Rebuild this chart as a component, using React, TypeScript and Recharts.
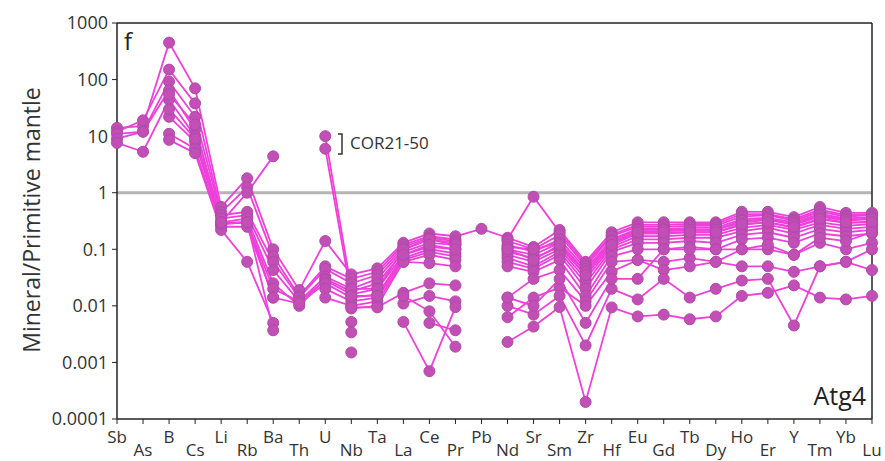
import { LineChart, Line, XAxis, YAxis, ReferenceLine } from "recharts";

// element order on the x axis
const elements = [
  "Sb", "As", "B", "Cs", "Li", "Rb", "Ba", "Th", "U", "Nb",
  "Ta", "La", "Ce", "Pr", "Pb", "Nd", "Sr", "Sm", "Zr", "Hf",
  "Eu", "Gd", "Tb", "Dy", "Ho", "Er", "Y", "Tm", "Yb", "Lu",
];

const yTicks = [0.0001, 0.001, 0.01, 0.1, 1, 10, 100, 1000];

type V = number | null;
const _ = null;

// spot analyses, normalised to primitive mantle
const s01: V[] = [14, 15, 450, 70, 0.56, 1.8, 0.1, 0.019, 0.14, 0.036, 0.046, 0.13, 0.19, 0.17, 0.23, 0.16, 0.11, 0.22, 0.06, 0.2, 0.3, 0.3, 0.3, 0.3, 0.46, 0.46, 0.37, 0.56, 0.44, 0.44];
const s02: V[] = [12, 19, 150, 38, 0.45, 1.25, 0.075, 0.015, 0.05, 0.03, 0.04, 0.12, 0.17, 0.15, _, 0.15, 0.85, 0.2, 0.055, 0.18, 0.27, 0.27, 0.28, 0.28, 0.42, 0.42, 0.34, 0.5, 0.4, 0.42];
const s03: V[] = [11, 12, 92, 22, 0.4, 0.46, 0.06, 0.014, 0.045, 0.025, 0.035, 0.11, 0.16, 0.14, _, 0.14, 0.1, 0.18, 0.05, 0.17, 0.25, 0.25, 0.26, 0.26, 0.38, 0.4, 0.32, 0.46, 0.38, 0.4];
const s04: V[] = [9, 12, 65, 13, 0.35, 0.4, 0.043, 0.012, 0.033, 0.02, 0.03, 0.1, 0.15, 0.13, _, 0.12, 0.09, 0.15, 0.045, 0.15, 0.23, 0.23, 0.24, 0.24, 0.34, 0.36, 0.3, 0.42, 0.35, 0.37];
const s05: V[] = [7.6, 5.3, 44, 10, 0.3, 0.35, 0.025, 0.01, 0.03, 0.018, 0.025, 0.09, 0.13, 0.12, _, 0.1, 0.08, 0.13, 0.04, 0.13, 0.21, 0.21, 0.22, 0.22, 0.3, 0.33, 0.27, 0.38, 0.32, 0.34];
const s06: V[] = [_, _, 22, 8, 0.28, 0.3, 0.02, 0.012, 0.028, 0.016, 0.02, 0.08, 0.11, 0.1, _, 0.09, 0.07, 0.11, 0.035, 0.12, 0.19, 0.19, 0.2, 0.2, 0.27, 0.3, 0.24, 0.34, 0.29, 0.31];
const s07: V[] = [_, _, 11, 6, 0.25, 0.25, 0.014, 0.011, 0.025, 0.014, 0.016, 0.07, 0.1, 0.085, _, 0.08, 0.06, 0.1, 0.03, 0.11, 0.17, 0.17, 0.18, 0.18, 0.24, 0.27, 0.22, 0.3, 0.26, 0.28];
const s08: V[] = [_, _, 8.6, 5, 0.22, 0.06, 0.005, _, 0.02, 0.012, 0.014, 0.065, 0.09, 0.075, _, 0.07, 0.05, 0.09, 0.025, 0.1, 0.15, 0.15, 0.16, 0.16, 0.21, 0.24, 0.19, 0.27, 0.23, 0.25];
const s09: V[] = [_, _, 30, 9, 0.3, 0.3, 0.0037, _, 0.014, 0.01, 0.012, 0.06, 0.08, 0.065, _, 0.06, 0.045, 0.08, 0.02, 0.09, 0.13, 0.13, 0.14, 0.13, 0.18, 0.2, 0.16, 0.23, 0.2, 0.22];
const s10: V[] = [_, _, 55, 16, 0.28, 0.3, 0.014, _, _, 0.009, 0.01, 0.06, 0.057, 0.05, _, 0.05, 0.04, 0.065, 0.015, 0.075, 0.1, 0.1, 0.11, 0.1, 0.15, 0.16, 0.13, 0.19, 0.17, 0.19];
const s11: V[] = [_, _, _, _, _, _, _, _, _, 0.0094, 0.0094, 0.017, 0.025, 0.023, _, 0.014, 0.03, 0.043, 0.012, 0.06, 0.065, 0.06, 0.07, 0.06, 0.1, 0.1, 0.08, 0.13, 0.1, 0.13];
const s12: V[] = [_, _, _, _, _, _, _, _, _, 0.0052, _, 0.011, 0.015, 0.012, _, 0.0063, 0.014, 0.021, 0.01, 0.04, 0.065, 0.043, 0.05, 0.06, 0.05, 0.05, 0.04, 0.05, 0.06, 0.1];
const s13: V[] = [_, _, _, _, _, _, _, _, _, 0.0034, _, 0.0052, 0.0007, 0.0095, _, 0.0023, 0.0043, 0.0095, 0.0002, 0.0094, 0.0065, 0.007, 0.0058, 0.0065, 0.015, 0.017, 0.023, 0.014, 0.013, 0.015];
const s14: V[] = [_, _, _, _, _, _, _, _, _, 0.0015, _, _, 0.005, 0.0037, _, 0.01, 0.007, 0.015, 0.002, 0.02, 0.013, 0.03, 0.014, 0.02, 0.028, 0.03, 0.0045, 0.05, 0.06, 0.043];
const s15: V[] = [_, _, _, _, 0.3, 1.0, 4.4, _, 10, 0.02, 0.02, 0.1, 0.15, 0.12, _, 0.11, 0.1, 0.13, 0.04, 0.14, 0.22, 0.22, 0.22, 0.22, 0.32, 0.34, 0.28, 0.4, 0.33, 0.35];
const s16: V[] = [_, _, _, _, _, _, _, _, 6, 0.015, 0.015, 0.08, 0.12, 0.1, _, 0.1, 0.065, 0.12, 0.035, 0.12, 0.2, 0.2, 0.2, 0.2, 0.28, 0.3, 0.25, 0.35, 0.3, 0.3];
const s17: V[] = [_, _, _, _, _, _, _, _, _, _, _, 0.015, 0.008, 0.0019, _, 0.014, 0.01, 0.03, 0.005, 0.03, 0.03, 0.1, 0.1, 0.1, 0.1, 0.12, 0.08, 0.16, 0.14, 0.2];

const seriesList = [s01, s02, s03, s04, s05, s06, s07, s08, s09, s10, s11, s12, s13, s14, s15, s16, s17];

const data = elements.map((el, i) => {
  const row: Record<string, string | number | null> = { el };
  seriesList.forEach((s, k) => {
    row[`s${k}`] = s[i];
  });
  return row;
});

const FONT = "'Open Sans', sans-serif";
const LINE = "#ee40da";
const DOT = "#c24fb6";

function ElementTick({ x, y, payload }: any) {
  const i = elements.indexOf(payload.value);
  const low = i % 2 === 1;
  return (
    <text
      x={x}
      y={y + (low ? 30 : 17)}
      textAnchor="middle"
      fontSize={17}
      fontFamily={FONT}
      fill="#333"
    >
      {payload.value}
    </text>
  );
}

export default function App() {
  return (
    <div style={{ position: "absolute", left: 0, top: 0, width: 885, height: 461, background: "#fff" }}>
      <LineChart
        width={885}
        height={461}
        data={data}
        margin={{ top: 23, right: 13, bottom: 0, left: 0 }}
      >
        <XAxis
          dataKey="el"
          scale="point"
          padding={{ left: 0, right: 0 }}
          height={42}
          interval={0}
          tick={<ElementTick />}
          tickSize={5}
          axisLine={{ stroke: "#222", strokeWidth: 1.5 }}
          tickLine={{ stroke: "#222" }}
        />
        <YAxis
          scale="log"
          domain={[0.0001, 1000]}
          ticks={yTicks}
          allowDataOverflow
          width={117}
          tickSize={5}
          tickMargin={4}
          tickFormatter={(v: number) => String(v)}
          tick={{ fontSize: 18, fontFamily: FONT, fill: "#333" }}
          axisLine={{ stroke: "#222", strokeWidth: 1.5 }}
          tickLine={{ stroke: "#222" }}
        />
        <ReferenceLine y={1} stroke="#b5b5b5" strokeWidth={3} />
        <ReferenceLine y={1000} stroke="#222" strokeWidth={1.5} />
        <ReferenceLine x="Lu" stroke="#222" strokeWidth={1.5} />
        {seriesList.map((_s, k) => (
          <Line
            key={k}
            type="linear"
            dataKey={`s${k}`}
            stroke={LINE}
            strokeWidth={1.8}
            dot={{ r: 5.5, fill: DOT, stroke: "#b04aa8", strokeWidth: 1 }}
            activeDot={false}
            isAnimationActive={false}
          />
        ))}
      </LineChart>
      <svg
        width={885}
        height={461}
        style={{ position: "absolute", left: 0, top: 0, pointerEvents: "none" }}
      >
        <text
          transform="translate(40 220) rotate(-90)"
          textAnchor="middle"
          fontSize={23}
          fontFamily={FONT}
          fill="#333"
        >
          Mineral/Primitive mantle
        </text>
        <text x={124} y={50} fontSize={24} fontFamily={FONT} fill="#222">
          f
        </text>
        <text x={866} y={405} textAnchor="end" fontSize={25} fontFamily={FONT} fill="#222">
          Atg4
        </text>
        <path d="M338 134 H342 V154 H338" fill="none" stroke="#333" strokeWidth={1.5} />
        <text x={350} y={149} fontSize={17} fontFamily={FONT} fill="#333">
          COR21-50
        </text>
      </svg>
    </div>
  );
}
